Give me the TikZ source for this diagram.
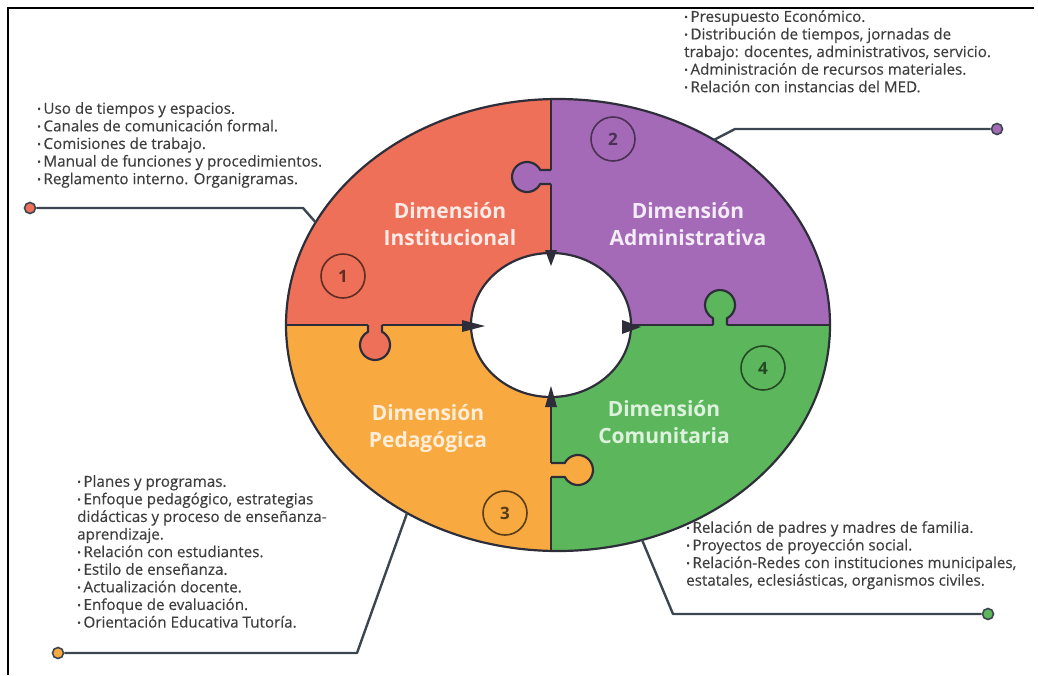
\documentclass[tikz,border=0pt]{standalone}
\usepackage{fontspec}
\setmainfont{Open Sans}
\newfontfamily\listfont[FakeBold=0.35]{Open Sans}
\usetikzlibrary{calc}
\definecolor{rojo}{HTML}{EE7058}
\definecolor{morado}{HTML}{A46AB8}
\definecolor{naranja}{HTML}{F8AA40}
\definecolor{verde}{HTML}{5CB75C}
\definecolor{borde}{HTML}{2E2E3A}
\definecolor{linea}{HTML}{3C4650}
\definecolor{texto}{HTML}{3E3E3E}
\tikzset{
  piece/.style={draw=borde, line width=2.2pt},
  dot/.style={circle, draw=linea, line width=1.6pt, minimum size=11pt, inner sep=0pt},
  leader/.style={draw=linea, line width=2.4pt, line join=round},
  num/.style={circle, line width=1.6pt, minimum size=44pt, inner sep=0pt,
    font=\fontsize{17}{17}\selectfont\bfseries},
  dimlabel/.style={align=center, font=\fontsize{21}{27}\selectfont\bfseries},
  lista/.style={align=left, anchor=north west, inner sep=0pt, text=texto,
    font=\listfont\fontsize{15.2}{17.6}\selectfont},
  punta/.style={fill=borde}
}
\newcommand{\itm}{{\fontsize{10}{10}\selectfont\raisebox{1.2pt}{•}}\,}

\begin{document}
\begin{tikzpicture}[x=1pt,y=-1pt]
  \useasboundingbox (0,0) rectangle (1038,675);
  \def\cx{558}\def\cy{325}\def\rx{272}\def\ry{226}

  % frame
  \draw[line width=2pt] (8,675) -- (8,8) -- (1034,8);

  % four pieces
  \begin{scope}
    \clip (\cx,\cy) ellipse [x radius=\rx, y radius=\ry];
    \fill[rojo] (0,0) rectangle (551,325);
    \fill[morado] (551,0) rectangle (1038,325);
    \fill[naranja] (0,325) rectangle (551,675);
    \fill[verde] (551,325) rectangle (1038,675);
    \draw[piece] (551,0) -- (551,675);
    \draw[piece] (0,325) -- (1038,325);
  \end{scope}

  % knobs
  \fill[morado] (553,170) -- (540.3,170) arc[start angle=-27.8, end angle=-332.2, radius=15] -- (553,184) -- cycle;
  \draw[piece] (551,170) -- (540.3,170) arc[start angle=-27.8, end angle=-332.2, radius=15] -- (551,184);
  \fill[rojo] (382,323) -- (382,331.7) arc[start angle=-62.2, end angle=242.2, radius=15] -- (368,323) -- cycle;
  \draw[piece] (382,325) -- (382,331.7) arc[start angle=-62.2, end angle=242.2, radius=15] -- (368,325);
  \fill[verde] (727,327) -- (727,318.3) arc[start angle=62.2, end angle=-242.2, radius=15] -- (713,327) -- cycle;
  \draw[piece] (727,325) -- (727,318.3) arc[start angle=62.2, end angle=-242.2, radius=15] -- (713,325);
  \fill[naranja] (549,463) -- (564.7,463) arc[start angle=-152.2, end angle=152.2, radius=15] -- (549,477) -- cycle;
  \draw[piece] (551,463) -- (564.7,463) arc[start angle=-152.2, end angle=152.2, radius=15] -- (551,477);

  % centre hole and rim
  \filldraw[piece, fill=white] (551,325) ellipse [x radius=80, y radius=72];
  \draw[piece] (\cx,\cy) ellipse [x radius=\rx, y radius=\ry];

  \fill[punta] (545,250) -- (557,250) -- (551,266) -- cycle;
  \fill[punta] (462,320) -- (485,326) -- (462,332) -- cycle;
  \fill[punta] (622,320) -- (641,327) -- (622,334) -- cycle;
  \fill[punta] (545,407) -- (551,386) -- (557,407) -- cycle;

  % labels
  \node[dimlabel, text=rojo!15!white] (l1) at (450,224) {Dimensión\\Institucional};
  \node[dimlabel, text=morado!12!white] (l2) at (688,224) {Dimensión\\Administrativa};
  \node[dimlabel, text=naranja!20!white] (l3) at (428,428) {Dimensión\\Pedagógica};
  \node[dimlabel, text=verde!20!white] (l4) at (664,422) {Dimensión\\Comunitaria};

  \node[num, draw=rojo!40!black, text=rojo!40!black] (n1) at (343,276) {1};
  \node[num, draw=morado!45!black, text=morado!45!black] (n2) at (613,139) {2};
  \node[num, draw=naranja!35!black, text=naranja!35!black] (n3) at (505,513) {3};
  \node[num, draw=verde!40!black, text=verde!40!black] (n4) at (763,368) {4};

  % leaders
  \node[dot, fill=rojo] (d1) at (30,208) {};
  \node[dot, fill=morado] (d2) at (997,129) {};
  \node[dot, fill=naranja] (d3) at (58,653) {};
  \node[dot, fill=verde] (d4) at (988,614) {};
  \coordinate (k1) at (303,208);
  \coordinate (k2) at (735,129);
  \coordinate (k3) at (357,653);
  \coordinate (k4) at (673,614);
  \coordinate (e1) at ({\cx+\rx*cos(207)},{\cy+\ry*sin(207)});
  \coordinate (e2) at ({\cx+\rx*cos(-55)},{\cy+\ry*sin(-55)});
  \coordinate (e3) at ({\cx+\rx*cos(123.7)},{\cy+\ry*sin(123.7)});
  \coordinate (e4) at ({\cx+\rx*cos(72)},{\cy+\ry*sin(72)});
  \draw[leader] (d1) -- (k1) -- (e1);
  \draw[leader] (d2) -- (k2) -- (e2);
  \draw[leader] (d3) -- (k3) -- (e3);
  \draw[leader] (d4) -- (k4) -- (e4);

  % lists
  \node[lista] (t1) at (37,102) {\itm Uso de tiempos y espacios.\\
    \itm Canales de comunicación formal.\\
    \itm Comisiones de trabajo.\\
    \itm Manual de funciones y procedimientos.\\
    \itm Reglamento interno. Organigramas.};
  \node[lista] (t2) at (684,10) {\itm Presupuesto Económico.\\
    \itm Distribución de tiempos, jornadas de\\
    trabajo: docentes, administrativos, servicio.\\
    \itm Administración de recursos materiales.\\
    \itm Relación con instancias del MED.};
  \node[lista] (t3) at (77,475) {\itm Planes y programas.\\
    \itm Enfoque pedagógico, estrategias\\
    didácticas y proceso de enseñanza-\\
    aprendizaje.\\
    \itm Relación con estudiantes.\\
    \itm Estilo de enseñanza.\\
    \itm Actualización docente.\\
    \itm Enfoque de evaluación.\\
    \itm Orientación Educativa Tutoría.};
  \node[lista] (t4) at (686,521) {\itm Relación de padres y madres de familia.\\
    \itm Proyectos de proyección social.\\
    \itm Relación-Redes con instituciones municipales,\\
    estatales, eclesiásticas, organismos civiles.};
\end{tikzpicture}
\end{document}
